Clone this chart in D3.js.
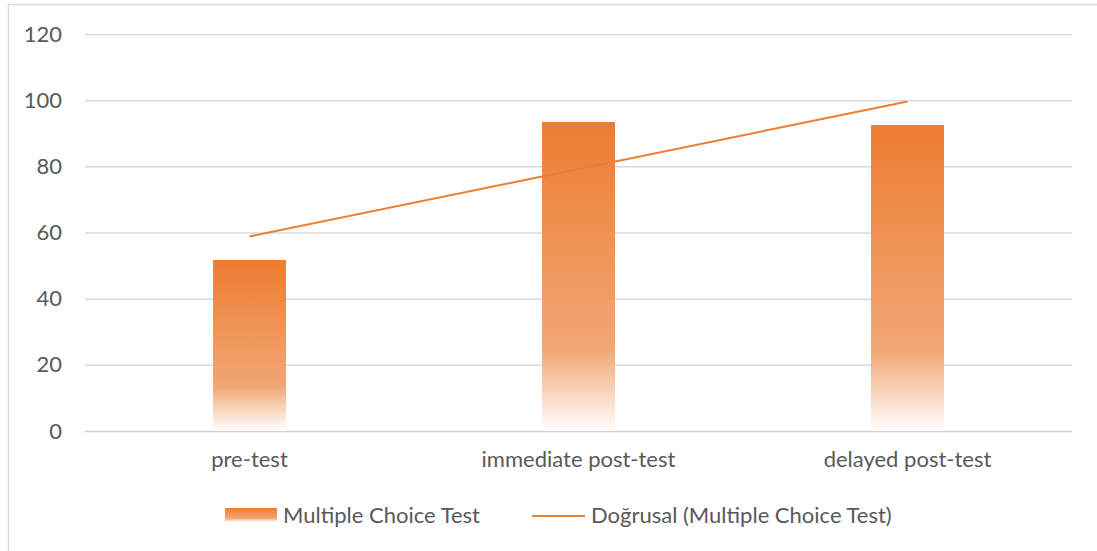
<!DOCTYPE html>
<html>
<head>
<meta charset="utf-8">
<script src="https://cdn.jsdelivr.net/npm/d3@7"></script>
<style>
  body { margin: 0; background: #fff; }
  text { font-family: Lato, "Open Sans", sans-serif; fill: #595959; }
</style>
</head>
<body>
<script>
// chart data
const categories = ["pre-test", "immediate post-test", "delayed post-test"];
const scores = [51.7, 93.4, 92.5];
const yTicks = [0, 20, 40, 60, 80, 100, 120];
const barLabel = "Multiple Choice Test";
const trendLabel = "Doğrusal (Multiple Choice Test)";

const svgWidth = 1097;
const svgHeight = 551;
const orange = "#ED7D31";
const fontSize = "22px";

const svg = d3.select("body")
    .append("svg")
    .attr("width", svgWidth)
    .attr("height", svgHeight);

// gradient used by the bars and the legend swatch
const defs = svg.append("defs");
const grad = defs.append("linearGradient")
    .attr("id", "barGrad")
    .attr("x1", 0).attr("y1", 0).attr("x2", 0).attr("y2", 1);
grad.append("stop").attr("offset", "0%").attr("stop-color", orange);
grad.append("stop").attr("offset", "74%").attr("stop-color", "#F1A775");
grad.append("stop").attr("offset", "100%").attr("stop-color", "#FFFFFF");

// chart frame
svg.append("rect")
    .attr("x", 8.5).attr("y", 4.5)
    .attr("width", 1100).attr("height", 560)
    .attr("fill", "none")
    .attr("stroke", "#d9d9d9")
    .attr("stroke-width", 1.5);

const plot = { left: 85, right: 1072, top: 34, bottom: 431 };

const xScale = d3.scaleBand()
    .domain(categories)
    .range([plot.left, plot.right]);

const yScale = d3.scaleLinear()
    .domain([0, 120])
    .range([plot.bottom, plot.top]);

// gridlines + y labels
const yAxis = svg.append("g")
    .attr("transform", `translate(${plot.left},0)`)
    .call(d3.axisLeft(yScale).tickValues(yTicks).tickSize(-(plot.right - plot.left)).tickPadding(23));
yAxis.select(".domain").remove();
yAxis.selectAll(".tick line")
    .attr("stroke", d => d === 0 ? "#d0d0d0" : "#d9d9d9")
    .attr("stroke-width", 1.5);
yAxis.selectAll(".tick text")
    .style("font-size", fontSize)
    .attr("fill", "#595959");

// bars
const barWidth = 73;
svg.selectAll("rect.bar")
    .data(scores)
    .enter()
    .append("rect")
    .attr("class", "bar")
    .attr("x", (d, i) => xScale(categories[i]) + xScale.bandwidth() / 2 - barWidth / 2)
    .attr("y", d => yScale(d))
    .attr("width", barWidth)
    .attr("height", d => yScale(0) - yScale(d))
    .attr("fill", "url(#barGrad)");

// linear trend line (least squares on category index)
const n = scores.length;
const xs = scores.map((d, i) => i + 1);
const mx = d3.mean(xs), my = d3.mean(scores);
const slope = d3.sum(xs, (x, i) => (x - mx) * (scores[i] - my)) / d3.sum(xs, x => (x - mx) ** 2);
const intercept = my - slope * mx;
const trend = xs.map((x, i) => ({ cat: categories[i], v: intercept + slope * x }));
const trendPts = [trend[0], trend[n - 1]];

svg.append("path")
    .datum(trendPts)
    .attr("fill", "none")
    .attr("stroke", orange)
    .attr("stroke-width", 2)
    .attr("d", d3.line()
        .x(d => xScale(d.cat) + xScale.bandwidth() / 2)
        .y(d => yScale(d.v)));

// x labels
const xAxis = svg.append("g")
    .attr("transform", `translate(0,${plot.bottom})`)
    .call(d3.axisBottom(xScale).tickSize(0).tickPadding(20));
xAxis.select(".domain").remove();
xAxis.selectAll(".tick text")
    .style("font-size", fontSize)
    .attr("fill", "#595959");

// legend
const legend = svg.append("g");
legend.append("rect")
    .attr("x", 225).attr("y", 508)
    .attr("width", 52).attr("height", 14)
    .attr("fill", "url(#barGrad)");
legend.append("text")
    .attr("x", 283).attr("y", 523)
    .style("font-size", fontSize)
    .text(barLabel);
legend.append("line")
    .attr("x1", 532).attr("x2", 585)
    .attr("y1", 516).attr("y2", 516)
    .attr("stroke", orange)
    .attr("stroke-width", 2);
legend.append("text")
    .attr("x", 591).attr("y", 523)
    .style("font-size", fontSize)
    .text(trendLabel);
</script>
</body>
</html>
